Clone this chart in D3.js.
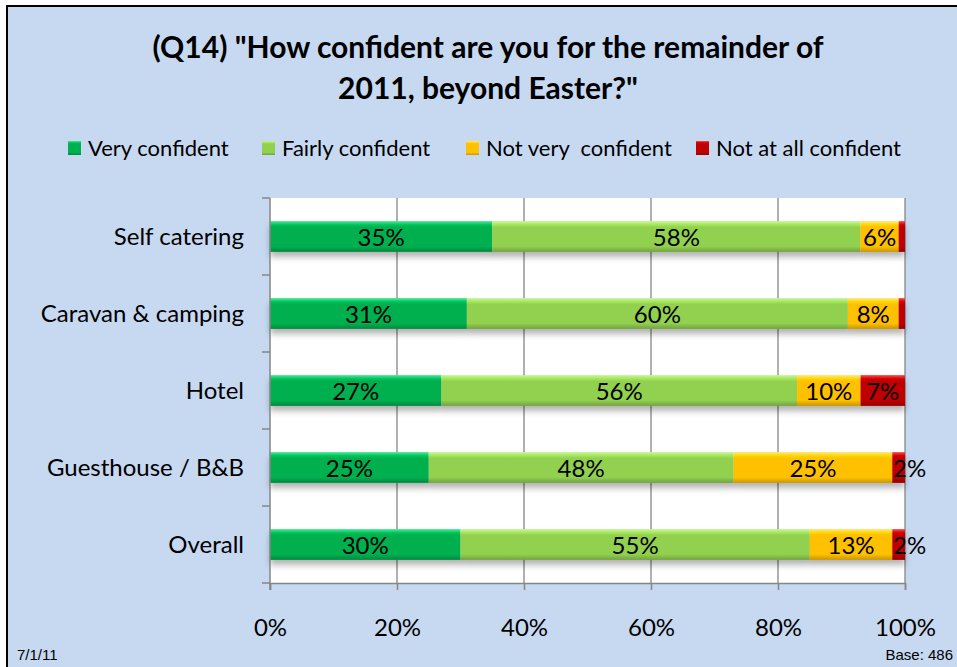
<!DOCTYPE html>
<html>
  <head>
    <title>Confidence chart</title>
    <style>
      body { margin: 0; background: #fff; }
      svg { display: block; font-family: Lato, 'Open Sans', sans-serif; }
    </style>
  </head>
  <body>
    <svg id='chart'></svg>
  </body>
  <script type="text/javascript" src="https://cdn.jsdelivr.net/npm/d3@7"></script>
  <script type="text/javascript">
    const categories = ['Self catering', 'Caravan & camping', 'Hotel', 'Guesthouse / B&B', 'Overall'];
    const seriesNames = ['Very confident', 'Fairly confident', 'Not very  confident', 'Not at all confident'];
    const veryConfident = [35, 31, 27, 25, 30];
    const fairlyConfident = [58, 60, 56, 48, 55];
    const notVeryConfident = [6, 8, 10, 25, 13];
    const notAtAllConfident = [1, 1, 7, 2, 2];
    const tickLabels = ['0%', '20%', '40%', '60%', '80%', '100%'];
    const colors = ['#00b050', '#92d050', '#ffc000', '#c00000'];
    const lightColors = ['#4de89a', '#c8f59a', '#ffe680', '#f55050'];

    const [width, height] = [957, 667];
    const svg = d3.select('#chart').attr('width', width).attr('height', height);

    // background + frame
    svg.append('rect').attr('x', 7).attr('y', 6).attr('width', 960).attr('height', 670)
      .attr('fill', '#c6d9f1').attr('stroke', '#000').attr('stroke-width', 2);

    const defs = svg.append('defs');
    colors.forEach(function(c, i) {
      const g = defs.append('linearGradient').attr('id', 'grad' + i)
        .attr('x1', 0).attr('y1', 0).attr('x2', 0).attr('y2', 1);
      g.append('stop').attr('offset', '0%').attr('stop-color', lightColors[i]);
      g.append('stop').attr('offset', '12%').attr('stop-color', d3.color(c).brighter(0.3));
      g.append('stop').attr('offset', '20%').attr('stop-color', c);
      g.append('stop').attr('offset', '82%').attr('stop-color', c);
      g.append('stop').attr('offset', '100%').attr('stop-color', d3.color(c).darker(0.7));
    });
    const shadow = defs.append('filter').attr('id', 'shadow')
      .attr('x', '-5%').attr('y', '-20%').attr('width', '110%').attr('height', '170%');
    shadow.append('feDropShadow').attr('dx', 0).attr('dy', 5).attr('stdDeviation', 3)
      .attr('flood-color', '#000').attr('flood-opacity', 0.3);

    const margin = { left: 270, right: 52, top: 198, bottom: 84 };
    const x = d3.scaleLinear().domain([0, 100]).range([margin.left, width - margin.right]);
    const y = d3.scaleBand().domain(categories).range([margin.top, height - margin.bottom]).paddingInner(0.6).paddingOuter(0.3);

    // plot area
    svg.append('rect').attr('x', x(0)).attr('y', margin.top)
      .attr('width', x(100) - x(0)).attr('height', height - margin.bottom - margin.top)
      .attr('fill', '#fff');

    // gridlines
    svg.append('g').selectAll('line').data([20, 40, 60, 80, 100]).enter().append('line')
      .attr('x1', d => x(d)).attr('x2', d => x(d))
      .attr('y1', margin.top).attr('y2', height - margin.bottom)
      .attr('stroke', '#868686').attr('stroke-width', 1.3);

    // title
    const title = svg.append('text').attr('text-anchor', 'middle')
      .attr('font-weight', 'bold').attr('font-size', 30).attr('fill', '#000');
    title.append('tspan').attr('x', 488).attr('y', 58).text('(Q14) "How confident are you for the remainder of');
    title.append('tspan').attr('x', 488).attr('y', 99).text('2011, beyond Easter?"');

    // legend
    const legendX = [68, 262, 466, 696];
    const legend = svg.append('g').selectAll('g').data(seriesNames).enter().append('g')
      .attr('transform', (d, i) => 'translate(' + legendX[i] + ',139)');
    legend.append('rect').attr('width', 13).attr('height', 14).attr('y', 2)
      .attr('fill', (d, i) => 'url(#grad' + i + ')');
    legend.append('text').attr('x', 20).attr('y', 17).attr('font-size', 22).attr('fill', '#000')
      .style('white-space', 'pre').attr('xml:space', 'preserve').text(d => d);

    // stacked data
    const rows = categories.map(function(c, i) {
      return { cat: c, 0: veryConfident[i], 1: fairlyConfident[i], 2: notVeryConfident[i], 3: notAtAllConfident[i] };
    });
    const stacked = d3.stack().keys([0, 1, 2, 3])(rows);

    const layers = svg.append('g').attr('filter', 'url(#shadow)').selectAll('g').data(stacked).enter().append('g')
      .attr('fill', (d, i) => 'url(#grad' + i + ')');
    layers.selectAll('rect').data(d => d).enter().append('rect')
      .attr('x', d => x(d[0])).attr('width', d => x(d[1]) - x(d[0]))
      .attr('y', d => y(d.data.cat)).attr('height', y.bandwidth());

    // data labels (1% segments carry no label)
    const labels = svg.append('g').attr('font-size', 24).attr('fill', '#000').attr('text-anchor', 'middle');
    stacked.forEach(function(layer) {
      labels.selectAll(null).data(layer.filter(d => d[1] - d[0] >= 2)).enter().append('text')
        .attr('x', d => (x(d[0]) + x(d[1])) / 2 + ((d[1] - d[0]) <= 2 ? 11 : 0))
        .attr('y', d => y(d.data.cat) + y.bandwidth() / 2 + 9)
        .text(d => (d[1] - d[0]) + '%');
    });

    // y axis
    const yAxis = svg.append('g');
    yAxis.append('line').attr('x1', x(0)).attr('x2', x(0))
      .attr('y1', margin.top).attr('y2', height - margin.bottom + 7)
      .attr('stroke', '#868686').attr('stroke-width', 1.5);
    const bounds = categories.map(c => y(c) - y.step() * y.paddingInner() / 2);
    bounds.push(height - margin.bottom);
    yAxis.selectAll('line.tick').data(bounds).enter().append('line').attr('class', 'tick')
      .attr('x1', x(0) - 8).attr('x2', x(0)).attr('y1', d => d).attr('y2', d => d)
      .attr('stroke', '#868686').attr('stroke-width', 1.5);
    yAxis.selectAll('text').data(categories).enter().append('text')
      .attr('x', 244).attr('y', d => y(d) + y.bandwidth() / 2 + 8)
      .attr('text-anchor', 'end').attr('font-size', 24).attr('fill', '#000').text(d => d);

    // x axis
    const xAxis = svg.append('g').attr('transform', 'translate(0,' + (height - margin.bottom) + ')')
      .call(d3.axisBottom(x).tickValues([0, 20, 40, 60, 80, 100]).tickSize(7)
        .tickFormat((d, i) => tickLabels[i]));
    xAxis.select('.domain').attr('stroke', '#868686').attr('stroke-width', 1.5);
    xAxis.selectAll('.tick line').attr('stroke', '#868686').attr('stroke-width', 1.5);
    xAxis.selectAll('.tick text').attr('font-size', 24).attr('font-family', 'Lato, sans-serif')
      .attr('fill', '#000').attr('y', 36);

    // footer
    svg.append('text').attr('x', 17).attr('y', 660).attr('font-family', 'Liberation Sans, Arial, sans-serif')
      .attr('font-size', 15).text('7/1/11');
    svg.append('text').attr('x', 953).attr('y', 660).attr('text-anchor', 'end')
      .attr('font-family', 'Liberation Sans, Arial, sans-serif').attr('font-size', 15).text('Base: 486');
  </script>
</html>
